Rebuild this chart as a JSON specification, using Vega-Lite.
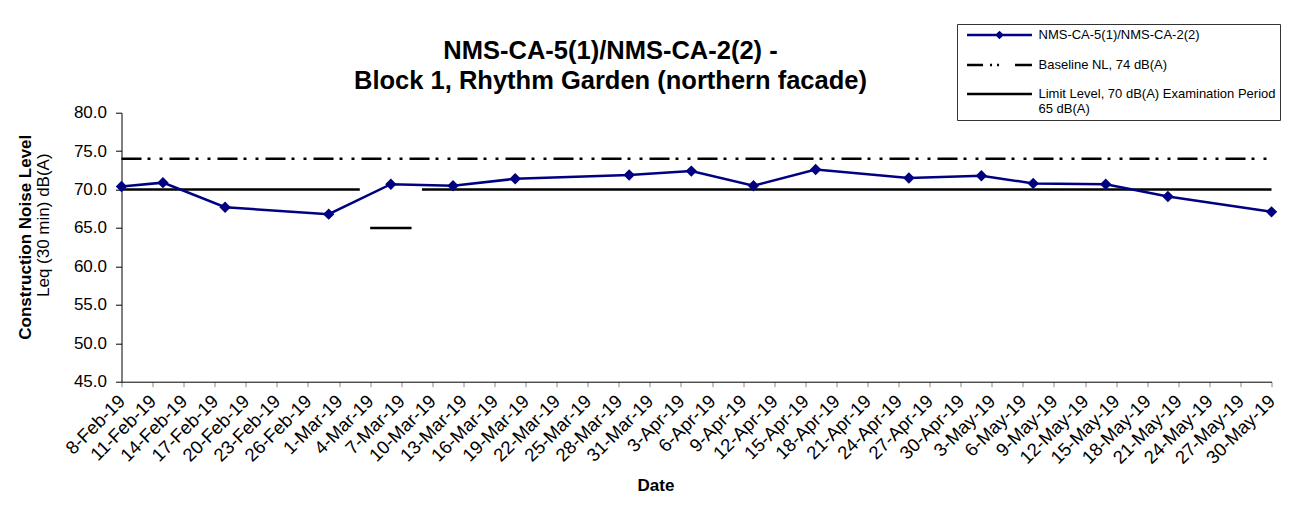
{
  "$schema": "https://vega.github.io/schema/vega-lite/v6.json",
  "width": 1150,
  "height": 269,
  "autosize": "none",
  "padding": {"left": 121.5, "top": 112.7, "right": 28.5, "bottom": 124.3},
  "background": "white",
  "config": {"font": "Liberation Sans", "view": {"stroke": null}, "axis": {"grid": false}},
  "title": {
    "text": ["NMS-CA-5(1)/NMS-CA-2(2) -", "Block 1, Rhythm Garden (northern facade)"],
    "font": "Liberation Sans", "fontSize": 25.5, "fontWeight": "bold", "color": "black",
    "anchor": "middle", "frame": "group", "dx": -86, "offset": -71, "lineHeight": 30
  },
  "data": {
    "values": [
      {"date": "2019/02/08", "level": 70.4, "series": "NMS-CA-5(1)/NMS-CA-2(2)", "segment": "A"},
      {"date": "2019/02/12", "level": 70.9, "series": "NMS-CA-5(1)/NMS-CA-2(2)", "segment": "A"},
      {"date": "2019/02/18", "level": 67.7, "series": "NMS-CA-5(1)/NMS-CA-2(2)", "segment": "A"},
      {"date": "2019/02/28", "level": 66.8, "series": "NMS-CA-5(1)/NMS-CA-2(2)", "segment": "A"},
      {"date": "2019/03/06", "level": 70.7, "series": "NMS-CA-5(1)/NMS-CA-2(2)", "segment": "A"},
      {"date": "2019/03/12", "level": 70.5, "series": "NMS-CA-5(1)/NMS-CA-2(2)", "segment": "A"},
      {"date": "2019/03/18", "level": 71.4, "series": "NMS-CA-5(1)/NMS-CA-2(2)", "segment": "A"},
      {"date": "2019/03/29", "level": 71.9, "series": "NMS-CA-5(1)/NMS-CA-2(2)", "segment": "A"},
      {"date": "2019/04/04", "level": 72.4, "series": "NMS-CA-5(1)/NMS-CA-2(2)", "segment": "A"},
      {"date": "2019/04/10", "level": 70.5, "series": "NMS-CA-5(1)/NMS-CA-2(2)", "segment": "A"},
      {"date": "2019/04/16", "level": 72.6, "series": "NMS-CA-5(1)/NMS-CA-2(2)", "segment": "A"},
      {"date": "2019/04/25", "level": 71.5, "series": "NMS-CA-5(1)/NMS-CA-2(2)", "segment": "A"},
      {"date": "2019/05/02", "level": 71.8, "series": "NMS-CA-5(1)/NMS-CA-2(2)", "segment": "A"},
      {"date": "2019/05/07", "level": 70.8, "series": "NMS-CA-5(1)/NMS-CA-2(2)", "segment": "A"},
      {"date": "2019/05/14", "level": 70.7, "series": "NMS-CA-5(1)/NMS-CA-2(2)", "segment": "A"},
      {"date": "2019/05/20", "level": 69.1, "series": "NMS-CA-5(1)/NMS-CA-2(2)", "segment": "A"},
      {"date": "2019/05/30", "level": 67.1, "series": "NMS-CA-5(1)/NMS-CA-2(2)", "segment": "A"},
      {"date": "2019/02/08", "level": 74, "series": "Baseline NL, 74 dB(A)", "segment": "B"},
      {"date": "2019/05/30", "level": 74, "series": "Baseline NL, 74 dB(A)", "segment": "B"},
      {"date": "2019/02/08", "level": 70, "series": "Limit Level, 70 dB(A) Examination Period 65 dB(A)", "segment": "L1"},
      {"date": "2019/03/03", "level": 70, "series": "Limit Level, 70 dB(A) Examination Period 65 dB(A)", "segment": "L1"},
      {"date": "2019/03/04", "level": 65, "series": "Limit Level, 70 dB(A) Examination Period 65 dB(A)", "segment": "L2"},
      {"date": "2019/03/08", "level": 65, "series": "Limit Level, 70 dB(A) Examination Period 65 dB(A)", "segment": "L2"},
      {"date": "2019/03/09", "level": 70, "series": "Limit Level, 70 dB(A) Examination Period 65 dB(A)", "segment": "L3"},
      {"date": "2019/05/30", "level": 70, "series": "Limit Level, 70 dB(A) Examination Period 65 dB(A)", "segment": "L3"}
    ]
  },
  "layer": [
    {
      "encoding": {
        "x": {
          "field": "date", "type": "temporal",
          "scale": {"domain": [{"year": 2019, "month": 2, "date": 8}, {"year": 2019, "month": 5, "date": 30}]},
          "axis": {
            "title": "Date", "titleFontSize": 17, "titleFontWeight": "bold", "titleColor": "black",
            "titleX": 534, "titleY": 96, "tickCount": 60,
            "values": [
              {"year": 2019, "month": 2, "date": 8}, {"year": 2019, "month": 2, "date": 11}, {"year": 2019, "month": 2, "date": 14},
              {"year": 2019, "month": 2, "date": 17}, {"year": 2019, "month": 2, "date": 20}, {"year": 2019, "month": 2, "date": 23},
              {"year": 2019, "month": 2, "date": 26}, {"year": 2019, "month": 3, "date": 1}, {"year": 2019, "month": 3, "date": 4},
              {"year": 2019, "month": 3, "date": 7}, {"year": 2019, "month": 3, "date": 10}, {"year": 2019, "month": 3, "date": 13},
              {"year": 2019, "month": 3, "date": 16}, {"year": 2019, "month": 3, "date": 19}, {"year": 2019, "month": 3, "date": 22},
              {"year": 2019, "month": 3, "date": 25}, {"year": 2019, "month": 3, "date": 28}, {"year": 2019, "month": 3, "date": 31},
              {"year": 2019, "month": 4, "date": 3}, {"year": 2019, "month": 4, "date": 6}, {"year": 2019, "month": 4, "date": 9},
              {"year": 2019, "month": 4, "date": 12}, {"year": 2019, "month": 4, "date": 15}, {"year": 2019, "month": 4, "date": 18},
              {"year": 2019, "month": 4, "date": 21}, {"year": 2019, "month": 4, "date": 24}, {"year": 2019, "month": 4, "date": 27},
              {"year": 2019, "month": 4, "date": 30}, {"year": 2019, "month": 5, "date": 3}, {"year": 2019, "month": 5, "date": 6},
              {"year": 2019, "month": 5, "date": 9}, {"year": 2019, "month": 5, "date": 12}, {"year": 2019, "month": 5, "date": 15},
              {"year": 2019, "month": 5, "date": 18}, {"year": 2019, "month": 5, "date": 21}, {"year": 2019, "month": 5, "date": 24},
              {"year": 2019, "month": 5, "date": 27}, {"year": 2019, "month": 5, "date": 30}
            ],
            "format": "%-d-%b-%y", "labelAngle": -45, "labelAlign": "right", "labelBaseline": "middle",
            "labelFontSize": 18.5, "labelColor": "black",
            "tickColor": "#888888", "tickSize": 5, "domainColor": "black", "labelPadding": 11,
            "labelOverlap": false, "labelFlush": false, "grid": false
          }
        },
        "y": {
          "field": "level", "type": "quantitative",
          "scale": {"domain": [45, 80], "nice": false, "zero": false},
          "axis": {
            "title": "Construction Noise Level", "titleFontSize": 17, "titleFontWeight": "bold", "titleColor": "black",
            "titleX": -87, "titleY": 124,
            "values": [45, 50, 55, 60, 65, 70, 75, 80], "format": ".1f",
            "labelFontSize": 17, "labelColor": "black", "tickColor": "black", "domainColor": "black",
            "tickSize": 6, "labelPadding": 9, "grid": false
          }
        }
      },
      "layer": [
        {
          "transform": [{"filter": "datum.series == 'Limit Level, 70 dB(A) Examination Period 65 dB(A)'"}],
          "mark": {"type": "line", "color": "black", "strokeWidth": 2.5},
          "encoding": {"detail": {"field": "segment", "type": "nominal"}}
        },
        {
          "transform": [{"filter": "datum.series == 'Baseline NL, 74 dB(A)'"}],
          "mark": {"type": "line", "color": "black", "strokeWidth": 2.5, "strokeDash": [20, 6, 3, 9, 3, 7]},
          "encoding": {}
        },
        {
          "transform": [{"filter": "datum.series == 'NMS-CA-5(1)/NMS-CA-2(2)'"}],
          "mark": {"type": "line", "color": "#000080", "strokeWidth": 2.5},
          "encoding": {}
        },
        {
          "transform": [{"filter": "datum.series == 'NMS-CA-5(1)/NMS-CA-2(2)'"}],
          "mark": {"type": "point", "shape": "diamond", "filled": true, "color": "#000080", "size": 130, "opacity": 1},
          "encoding": {}
        }
      ]
    },
    {
      "mark": {"type": "point", "filled": false, "opacity": 0},
      "encoding": {
        "x": {"field": "date", "type": "temporal"},
        "y": {
          "field": "level", "type": "quantitative",
          "scale": {"domain": [45, 80], "nice": false, "zero": false},
          "axis": {
            "orient": "left", "title": "Leq (30 min) dB(A)", "titleFontSize": 17, "titleFontWeight": "normal",
            "titleColor": "black", "titleX": -69, "titleY": 112,
            "labels": false, "ticks": false, "domain": false, "grid": false
          }
        },
        "color": {
          "field": "series", "type": "nominal",
          "scale": {
            "domain": ["NMS-CA-5(1)/NMS-CA-2(2)", "Baseline NL, 74 dB(A)", "Limit Level, 70 dB(A) Examination Period 65 dB(A)"],
            "range": ["#000080", "#000000", "#000000"]
          },
          "legend": {
            "title": null, "orient": "none", "legendX": 835.5, "legendY": -88.7,
            "padding": 4, "strokeColor": "#333333", "fillColor": "white",
            "symbolSize": 121, "symbolStrokeWidth": 2.5, "symbolOffset": 31.5, "labelOffset": 32,
            "labelFontSize": 13, "labelFont": "Liberation Sans", "labelColor": "black", "labelLimit": 400,
            "rowPadding": 15, "symbolOpacity": 1,
            "labelExpr": "datum.label == 'Limit Level, 70 dB(A) Examination Period 65 dB(A)' ? ['Limit Level, 70 dB(A) Examination Period', '65 dB(A)'] : datum.label",
            "encode": {"labels": {"update": {"lineHeight": {"value": 13}}}}
          }
        },
        "shape": {
          "field": "series", "type": "nominal",
          "scale": {
            "domain": ["NMS-CA-5(1)/NMS-CA-2(2)", "Baseline NL, 74 dB(A)", "Limit Level, 70 dB(A) Examination Period 65 dB(A)"],
            "range": ["M-5.9,0H5.9M0,-0.45L0.45,0L0,0.45L-0.45,0Z", "M-5.9,0H5.9", "M-5.9,0H5.9"]
          }
        },
        "strokeDash": {
          "field": "series", "type": "nominal",
          "scale": {
            "domain": ["NMS-CA-5(1)/NMS-CA-2(2)", "Baseline NL, 74 dB(A)", "Limit Level, 70 dB(A) Examination Period 65 dB(A)"],
            "range": [[1, 0], [16, 7, 2, 5, 2, 16, 17, 100], [1, 0]]
          }
        }
      }
    }
  ],
  "resolve": {"scale": {"y": "independent"}, "axis": {"y": "independent"}}
}
